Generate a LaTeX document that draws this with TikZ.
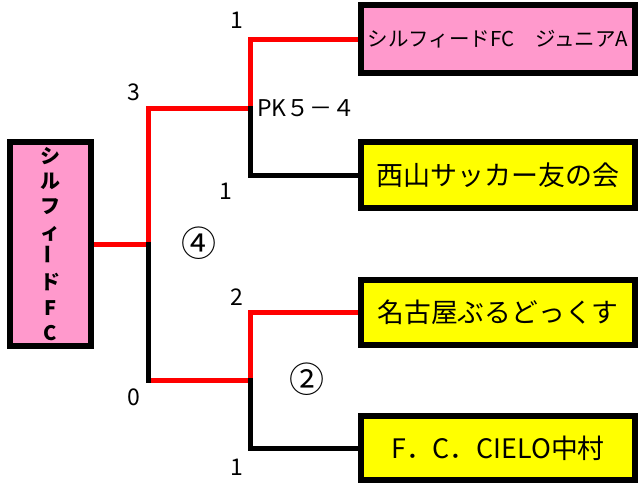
\documentclass[tikz,border=0pt]{standalone}
\usepackage{fontspec}
\setmainfont{Noto Sans CJK JP}
\usetikzlibrary{calc}

\definecolor{teampink}{RGB}{255,153,204}
\definecolor{teamyellow}{RGB}{255,255,0}
\definecolor{winred}{RGB}{255,0,0}

\begin{document}
\begin{tikzpicture}[x=1pt, y=-1pt,
    team/.style={draw=black, line width=6pt, minimum width=274pt, minimum height=66pt, inner sep=0pt},
    win/.style={draw=winred, line width=5pt},
    lose/.style={draw=black, line width=5pt, line cap=rect},
    score/.style={font=\fontsize{23}{23}\selectfont}]

    \useasboundingbox (0,0) rectangle (638,485);

    % team boxes
    \node[team, fill=teampink, minimum width=81pt, minimum height=204pt, align=center,
          font=\bfseries\fontsize{20}{25.3}\selectfont] (S) at (50.5,244)
        {シ\\ル\\フ\\ィ\\\rotatebox{90}{ー}\\ド\\F\\C};
    \node[team, fill=teampink, minimum height=68pt, font=\fontsize{20.5}{20.5}\selectfont] (A) at (498,39) {シルフィードFC　ジュニアA};
    \node[team, fill=teamyellow, font=\fontsize{27}{27}\selectfont] (N) at (498,175) {西山サッカー友の会};
    \node[team, fill=teamyellow, minimum height=65pt, font=\fontsize{26.8}{26.8}\selectfont] (B) at (498,312.5) {名古屋ぶるどっくす};
    \node[team, fill=teamyellow, minimum height=64pt, font=\fontsize{26.8}{26.8}\selectfont] (C) at (498,448) {F．C．CIELO中村};

    % junctions
    \coordinate (M) at (148,244);
    \coordinate (U) at (250,108);
    \coordinate (D) at (250,380);

    % winning lines
    \draw[win] (S.east) -- (M) |- (U);
    \draw[win] (U) |- (A.west);
    \draw[win] (M |- D) -- (D);
    \draw[win] (D) |- (B.west);

    % losing lines
    \draw[lose] (U) |- (N.west);
    \draw[lose] (M) -- (M |- D);
    \draw[lose] (D) |- (C.west);

    % scores
    \node[score] (sA) at (237,20) {1};
    \node[score] (sN) at (226,191) {1};
    \node[score] (sU) at (134,92) {3};
    \node[score] (sD) at (134,397) {0};
    \node[score] (sB) at (237,297) {2};
    \node[score] (sC) at (237,467) {1};
    \node[score, anchor=west, inner sep=0pt] (pk) at (257,108) {PK５－４};

    % match numbers
    \node[font=\fontsize{35}{35}\selectfont] (g4) at (199,243) {④};
    \node[font=\fontsize{35}{35}\selectfont] (g2) at (307,379) {②};
\end{tikzpicture}
\end{document}
